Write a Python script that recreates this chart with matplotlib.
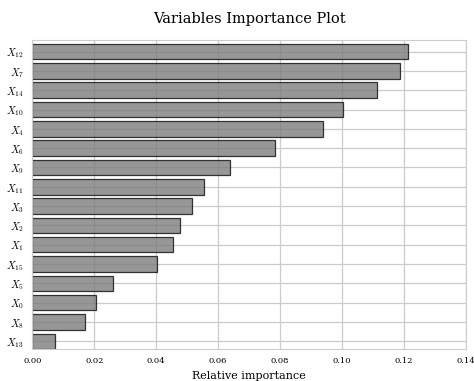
import numpy as np
import matplotlib.pyplot as plt

plt.rcParams['font.family'] = 'serif'
plt.rcParams['font.serif'] = ['DejaVu Serif']
plt.rcParams['mathtext.fontset'] = 'cm'

# variable importances, sorted ascending (bottom to top)
variables = [13, 8, 0, 5, 15, 1, 2, 3, 11, 9, 6, 4, 10, 14, 7, 12]
importance = [0.0074, 0.0171, 0.0206, 0.0261, 0.0403, 0.0455, 0.0477, 0.0516,
              0.0555, 0.0639, 0.0784, 0.0939, 0.1003, 0.1113, 0.1187, 0.1213]
labels = [r'$X_{%d}$' % v for v in variables]

fig, ax = plt.subplots(figsize=(4.74, 3.81), dpi=100)
pos = np.arange(len(variables))
ax.grid(True, color='#cccccc', linewidth=0.9)
ax.set_axisbelow(True)
ax.barh(pos, importance, height=0.8, color='#808080', edgecolor='#111111',
        linewidth=0.9, alpha=0.82)
ax.set_yticks(pos)
ax.set_yticklabels(labels, fontsize=7.5)
ax.set_xlim(0, 0.14)
ax.set_ylim(-0.4, 15.6)
ax.set_xticks(np.arange(0, 0.141, 0.02))
ax.set_xticklabels(['%.2f' % t for t in np.arange(0, 0.141, 0.02)], fontsize=6)
for s in ax.spines.values():
    s.set_color('#cccccc')
ax.tick_params(length=0, pad=6)
ax.set_xlabel('Relative importance', fontsize=8)
ax.set_title('Variables Importance Plot', fontsize=10.5, pad=12)

plt.subplots_adjust(left=0.068, right=0.983, top=0.895, bottom=0.084)
plt.savefig('out.png')
